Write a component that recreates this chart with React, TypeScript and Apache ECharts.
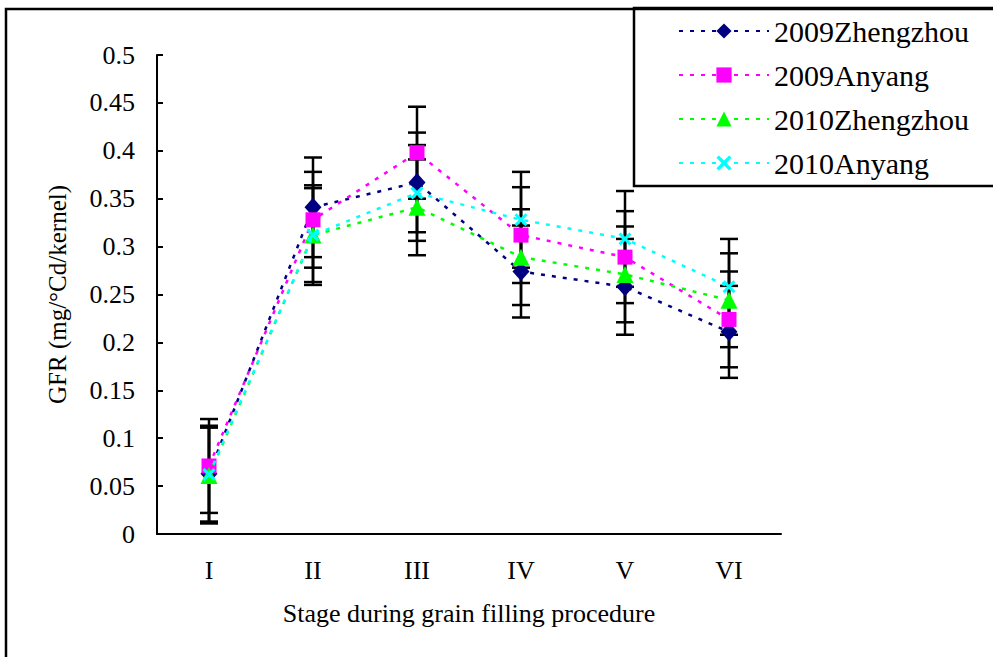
import React, { useEffect, useRef } from "react";
import * as echarts from "echarts";

const categories = ["I", "II", "III", "IV", "V", "VI"];
const yTicks = [0, 0.05, 0.1, 0.15, 0.2, 0.25, 0.3, 0.35, 0.4, 0.45, 0.5];

const seriesNames = ["2009Zhengzhou", "2009Anyang", "2010Zhengzhou", "2010Anyang"];
const zz2009 = [0.063, 0.341, 0.367, 0.274, 0.258, 0.211];
const ay2009 = [0.071, 0.328, 0.398, 0.312, 0.289, 0.224];
const zz2010 = [0.061, 0.312, 0.341, 0.289, 0.271, 0.244];
const ay2010 = [0.062, 0.312, 0.356, 0.328, 0.308, 0.258];

const zz2009Err = [0.05, 0.052, 0.052, 0.048, 0.05, 0.048];
const ay2009Err = [0.049, 0.05, 0.048, 0.05, 0.048, 0.05];
const zz2010Err = [0.05, 0.052, 0.05, 0.05, 0.05, 0.049];
const ay2010Err = [0.05, 0.049, 0.05, 0.05, 0.05, 0.05];

const colors = ["#000080", "#ff00ff", "#00ff00", "#00ffff"];
const symbols = [
  "diamond",
  "rect",
  "triangle",
  "path://M0,1.6L1.6,0L5,3.4L8.4,0L10,1.6L6.6,5L10,8.4L8.4,10L5,6.6L1.6,10L0,8.4L3.4,5Z",
];
const symbolSizes: any[] = [[17, 19], 15, 17, 13];

const FONT = "'Liberation Serif', 'Times New Roman', serif";

export default function App() {
  const ref = useRef<HTMLDivElement>(null);
  useEffect(() => {
    if (!ref.current) return;
    const chart = echarts.init(ref.current, null, { renderer: "svg" });
    const values = [zz2009, ay2009, zz2010, ay2010];
    const errs = [zz2009Err, ay2009Err, zz2010Err, ay2010Err];

    const errData: number[][] = [];
    values.forEach((vals, s) => {
      vals.forEach((v, i) => {
        errData.push([i, v - errs[s][i], v + errs[s][i]]);
      });
    });

    const lineSeries = seriesNames.map((name, s) => ({
      name,
      type: "line",
      data: values[s],
      symbol: symbols[s],
      symbolSize: symbolSizes[s],
      showAllSymbol: true,
      z: 5 + s,
      itemStyle: { color: colors[s] },
      lineStyle: { color: colors[s], width: 2.5, type: [4, 7] },
    }));

    chart.setOption({
      animation: false,
      backgroundColor: "#ffffff",
      grid: { left: 157, right: 212, top: 55, bottom: 123, containLabel: false },
      legend: {
        orient: "vertical",
        left: 673,
        top: 11,
        itemWidth: 90,
        itemHeight: 19,
        itemGap: 14,
        data: seriesNames,
        textStyle: { fontFamily: FONT, fontSize: 30, color: "#000" },
      },
      xAxis: {
        type: "category",
        data: categories,
        boundaryGap: true,
        name: "Stage during grain filling procedure",
        nameLocation: "middle",
        nameGap: 66,
        nameTextStyle: { fontFamily: FONT, fontSize: 26, color: "#000" },
        axisLine: { lineStyle: { color: "#000", width: 2 } },
        axisTick: { inside: true, length: 6, alignWithLabel: false, lineStyle: { color: "#000", width: 1.5 } },
        axisLabel: { fontFamily: FONT, fontSize: 26, color: "#000", margin: 23 },
        splitLine: { show: false },
      },
      yAxis: {
        type: "value",
        min: 0,
        max: 0.5,
        interval: 0.05,
        name: "GFR (mg/°Cd/kernel)",
        nameLocation: "middle",
        nameGap: 87,
        nameRotate: 90,
        nameTextStyle: { fontFamily: FONT, fontSize: 25, color: "#000" },
        axisLine: { show: true, lineStyle: { color: "#000", width: 2 } },
        axisTick: { show: true, inside: true, length: 6, lineStyle: { color: "#000", width: 2 } },
        axisLabel: {
          fontFamily: FONT,
          fontSize: 26,
          color: "#000",
          margin: 22,
          formatter: (v: number) => {
            const t = yTicks.find((x) => Math.abs(x - v) < 1e-9);
            return String(Number((t ?? v).toFixed(2)));
          },
        },
        splitLine: { show: false },
      },
      series: [
        {
          type: "custom",
          name: "errorbars",
          data: errData,
          z: 2,
          silent: true,
          renderItem: (params: any, api: any) => {
            const x = api.value(0);
            const lo = api.coord([x, api.value(1)]);
            const hi = api.coord([x, api.value(2)]);
            const hw = 9;
            const style = { stroke: "#000", lineWidth: 2.5 };
            return {
              type: "group",
              children: [
                { type: "line", shape: { x1: lo[0], y1: lo[1], x2: hi[0], y2: hi[1] }, style },
                { type: "line", shape: { x1: lo[0] - hw, y1: lo[1], x2: lo[0] + hw, y2: lo[1] }, style },
                { type: "line", shape: { x1: hi[0] - hw, y1: hi[1], x2: hi[0] + hw, y2: hi[1] }, style },
              ],
            };
          },
        },
        ...lineSeries,
      ],
      graphic: [
        {
          type: "rect",
          shape: { x: 6, y: 9, width: 1200, height: 1000 },
          style: { fill: "none", stroke: "#000", lineWidth: 2.5 },
          silent: true,
          z: 0,
        },
        {
          type: "rect",
          shape: { x: 634, y: 8, width: 400, height: 178 },
          style: { fill: "none", stroke: "#000", lineWidth: 2.5 },
          silent: true,
          z: 0,
        },
      ],
    });
    return () => chart.dispose();
  }, []);
  return (
    <div
      ref={ref}
      style={{ position: "fixed", left: 0, top: 0, width: 993, height: 657, background: "#fff" }}
    />
  );
}
